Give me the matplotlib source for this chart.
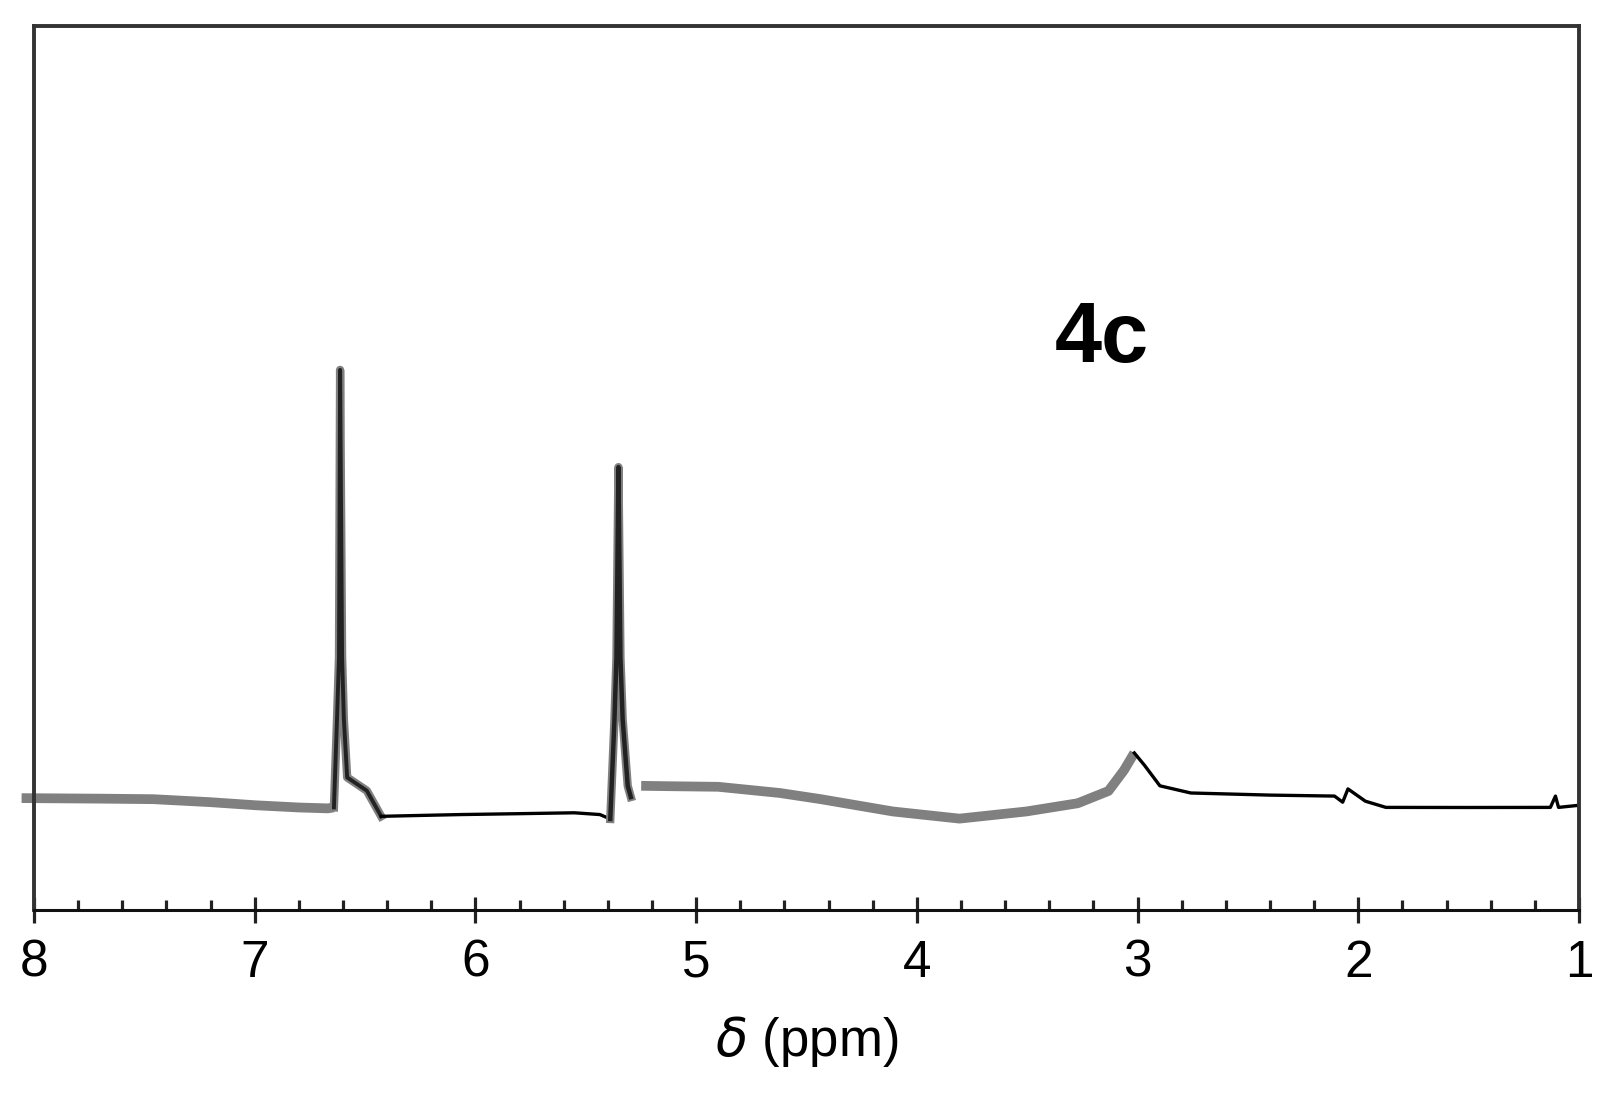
import matplotlib
matplotlib.use("Agg")
import matplotlib.pyplot as plt
from matplotlib.ticker import MultipleLocator

plt.rcParams["font.family"] = ["Liberation Sans", "DejaVu Sans"]
plt.rcParams["mathtext.fontset"] = "dejavusans"

# spectrum pieces (ppm, relative intensity 0-100)
left_ppm = [8.056, 7.70, 7.46, 7.20, 6.995, 6.80, 6.669, 6.641]
left_int = [12.66, 12.6, 12.54, 12.2, 11.85, 11.6, 11.50, 11.61]

peak1_ppm = [6.641, 6.627, 6.618, 6.613, 6.604, 6.596, 6.581, 6.492, 6.427]
peak1_int = [11.61, 21.6, 28.6, 61.1, 28.6, 21.6, 15.0, 13.5, 10.6]

mid_ppm = [6.427, 6.25, 6.064, 5.80, 5.552, 5.436, 5.389]
mid_int = [10.6, 10.7, 10.8, 10.9, 11.0, 10.8, 10.3]

peak2_ppm = [5.389, 5.370, 5.361, 5.352, 5.343, 5.333, 5.310, 5.296]
peak2_int = [10.3, 21.6, 28.6, 50.1, 28.6, 21.6, 14.05, 12.78]

hump_ppm = [5.249, 5.10, 4.900, 4.621, 4.435, 4.109, 3.807, 3.504, 3.271, 3.132, 3.062, 3.015]
hump_int = [14.05, 14.0, 13.94, 13.24, 12.54, 11.15, 10.34, 11.15, 12.08, 13.47, 15.80, 17.77]

right_ppm = [3.015, 2.969, 2.899, 2.759, 2.40, 2.108, 2.071, 2.047, 1.968, 1.875,
             1.50, 1.130, 1.107, 1.093, 1.000]
right_int = [17.77, 16.38, 14.05, 13.24, 13.0, 12.89, 12.20, 13.70, 12.31, 11.61,
             11.6, 11.61, 12.89, 11.61, 11.85]

major_ticks = [8, 7, 6, 5, 4, 3, 2, 1]

fig = plt.figure(figsize=(16.09, 10.93), dpi=100)
ax = fig.add_axes([0.0211, 0.1674, 0.9603, 0.8088])

grey = "#808080"
ax.plot(left_ppm, left_int, color=grey, lw=7, solid_capstyle="butt", clip_on=False)
ax.plot(peak1_ppm, peak1_int, color=grey, lw=6)
ax.plot(peak1_ppm, peak1_int, color="#222222", lw=2.8)
ax.plot(mid_ppm, mid_int, color="black", lw=2.4)
ax.plot(peak2_ppm, peak2_int, color=grey, lw=6)
ax.plot(peak2_ppm, peak2_int, color="#222222", lw=3.2)
ax.plot(hump_ppm, hump_int, color=grey, lw=7, solid_capstyle="butt")
ax.plot(right_ppm, right_int, color="black", lw=2.4)

ax.text(3.164, 62.0, "4c", fontsize=61, fontweight="bold", ha="center", va="baseline")

ax.set_xlim(8, 1)
ax.set_ylim(0, 100)
ax.set_yticks([])
ax.set_xticks(major_ticks)
ax.set_xticklabels([str(t) for t in major_ticks])
ax.xaxis.set_minor_locator(MultipleLocator(0.2))
ax.tick_params(axis="x", which="major", direction="inout", length=19, width=2.3,
               labelsize=37, pad=11, color="#222222")
ax.tick_params(axis="x", which="minor", direction="in", length=7, width=2.3, color="#222222")

for side in ["left", "right", "top"]:
    ax.spines[side].set_linewidth(2.8)
    ax.spines[side].set_color("#333333")
ax.spines["bottom"].set_linewidth(2.2)
ax.spines["bottom"].set_color("#111111")

ax.set_xlabel(r"$\delta$ (ppm)", fontsize=38, labelpad=19)

fig.savefig("out.png", dpi=100)
